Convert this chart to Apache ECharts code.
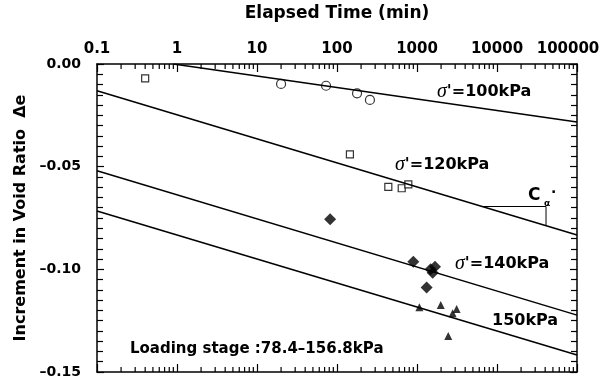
<!DOCTYPE html>
<html>
<head>
<meta charset="utf-8">
<script src="https://cdn.jsdelivr.net/npm/echarts@6/dist/echarts.min.js"></script>
<style>
  html, body { margin: 0; padding: 0; background: #fff; }
  #main { width: 604px; height: 390px; }
</style>
</head>
<body>
<div id="main"></div>
<script>
// measured points: [elapsed time (min), increment in void ratio]
const p100 = [[20, -0.0097], [73, -0.0106], [178, -0.0143], [258, -0.0175]]
const p120 = [[0.4, -0.0070], [145, -0.0440], [438, -0.0598], [644, -0.0605], [779, -0.0586]]
const p140 = [[82, -0.0756], [900, -0.0963], [1680, -0.0987], [1480, -0.1000], [1570, -0.1017], [1320, -0.1088]]
const p150 = [[1070, -0.1185], [1980, -0.1174], [3130, -0.1193], [2790, -0.1214], [2460, -0.1325]]

// straight lines on the semi-log plot
const line100 = [[0.9, 0], [100000, -0.0283]]
const line120 = [[0.1, -0.0130], [100000, -0.0833]]
const line140 = [[0.1, -0.0520], [100000, -0.1223]]
const line150 = [[0.1, -0.0716], [100000, -0.1417]]
// C_alpha slope triangle hung on the 120kPa line
const slopeTri = [[6500, -0.0694], [41000, -0.0694], [41000, -0.0788]]

// log minor ticks 2..9 in every decade
const minorTicks = []
for (let d = -1; d < 5; d++) {
  for (let k = 2; k <= 9; k++) minorTicks.push([k * Math.pow(10, d), 0])
}

const chart = echarts.init(document.getElementById('main'))
const font = 'DejaVu Sans, Liberation Sans, sans-serif'
const black = '#000'

const lineSeries = (data) => ({
  type: 'line',
  data,
  symbol: 'none',
  silent: true,
  lineStyle: { color: black, width: 1.5 }
})

const scatter = (data, symbol, size, filled) => ({
  type: 'scatter',
  data,
  symbol,
  symbolSize: size,
  itemStyle: {
    color: filled ? black : '#fff',
    borderColor: black,
    borderWidth: filled ? 0 : 1.2
  }
})

// last label sits at the very edge, pad it so it slides left into view
const tickLabel = (v) => {
  const s = String(Number(v.toPrecision(6)))
  return v >= 100000 ? '{m|' + s + '}' : s
}

const sigmaText = (x, y, rest) => ({
  type: 'text',
  left: x,
  top: y,
  style: {
    text: '{s|σ}{t|' + rest + '}',
    rich: {
      s: { fontFamily: 'Liberation Serif, serif', fontStyle: 'italic', fontSize: 20, fill: black },
      t: { fontFamily: font, fontWeight: 'bold', fontSize: 16, fill: black }
    }
  }
})

const plainText = (x, y, text, size) => ({
  type: 'text',
  left: x,
  top: y,
  style: { text, fontFamily: font, fontWeight: 'bold', fontSize: size, fill: black }
})

const xAxisBase = {
  type: 'log',
  logBase: 10,
  min: 0.1,
  max: 100000,
  splitNumber: 6,
  axisLine: { onZero: false, lineStyle: { color: black, width: 1.5 } },
  axisTick: { inside: true, length: 8, lineStyle: { color: black, width: 1.2 } },
  splitLine: { show: false }
}

const yAxisBase = {
  type: 'value',
  min: -0.15,
  max: 0,
  interval: 0.05,
  axisLine: { show: true, onZero: false, lineStyle: { color: black, width: 1.5 } },
  axisTick: { show: true, inside: true, length: 7, lineStyle: { color: black, width: 1.2 } },
  minorTick: { show: true, splitNumber: 10, length: 6, lineStyle: { color: black, width: 1.2 } },
  splitLine: { show: false }
}

const option = {
  animation: false,
  backgroundColor: '#fff',
  grid: { left: 97, right: 27, top: 64, bottom: 18, outerBoundsMode: 'none' },
  xAxis: [Object.assign({}, xAxisBase, {
    position: 'top',
    name: 'Elapsed Time (min)',
    nameLocation: 'middle',
    nameGap: 42,
    nameTextStyle: { fontFamily: font, fontWeight: 'bold', fontSize: 17, color: black },
    axisLabel: {
      formatter: tickLabel, fontFamily: font, fontWeight: 'bold', fontSize: 15, color: black, margin: 7,
      rich: { m: { fontFamily: font, fontWeight: 'bold', fontSize: 15, color: black, padding: [0, 18, 0, 0] } }
    }
  }), Object.assign({}, xAxisBase, {
    position: 'bottom',
    axisLabel: { show: false }
  })],
  yAxis: [Object.assign({}, yAxisBase, {
    name: 'Increment in Void Ratio  Δe',
    nameLocation: 'middle',
    nameGap: 60,
    nameTextStyle: { fontFamily: font, fontWeight: 'bold', fontSize: 16, color: black },
    axisLabel: {
      formatter: (v) => (v < 0 ? '–' : '') + Math.abs(v).toFixed(2),
      fontFamily: font, fontWeight: 'bold', fontSize: 14, color: black, margin: 16
    }
  }), Object.assign({}, yAxisBase, {
    position: 'right',
    axisLabel: { show: false }
  })],
  series: [
    lineSeries(line100),
    lineSeries(line120),
    lineSeries(line140),
    lineSeries(line150),
    Object.assign(lineSeries(slopeTri), { lineStyle: { color: black, width: 1 } }),
    scatter(p100, 'circle', 9, false),
    scatter(p120, 'rect', 7, false),
    scatter(p140, 'diamond', 12, true),
    scatter(p150, 'triangle', 8, true),
    {
      type: 'custom',
      data: minorTicks,
      silent: true,
      renderItem(params, api) {
        const top = api.coord([api.value(0), 0])
        const bot = api.coord([api.value(0), -0.15])
        const st = { stroke: black, lineWidth: 1.2 }
        return {
          type: 'group',
          children: [
            { type: 'line', shape: { x1: top[0], y1: top[1], x2: top[0], y2: top[1] + 5 }, style: st },
            { type: 'line', shape: { x1: bot[0], y1: bot[1], x2: bot[0], y2: bot[1] - 5 }, style: st }
          ]
        }
      }
    }
  ],
  graphic: [
    sigmaText(437, 82, "'=100kPa"),
    sigmaText(395, 155, "'=120kPa"),
    sigmaText(455, 254, "'=140kPa"),
    plainText(492, 313, '150kPa', 16),
    plainText(130, 342, 'Loading stage :78.4–156.8kPa', 15),
    plainText(528, 187, 'C', 17),
    {
      type: 'text', left: 544, top: 199,
      style: { text: 'α', fontFamily: font, fontWeight: 'bold', fontSize: 9, fill: black }
    },
    plainText(551, 186, '·', 14)
  ]
}

chart.setOption(option)
</script>
</body>
</html>
